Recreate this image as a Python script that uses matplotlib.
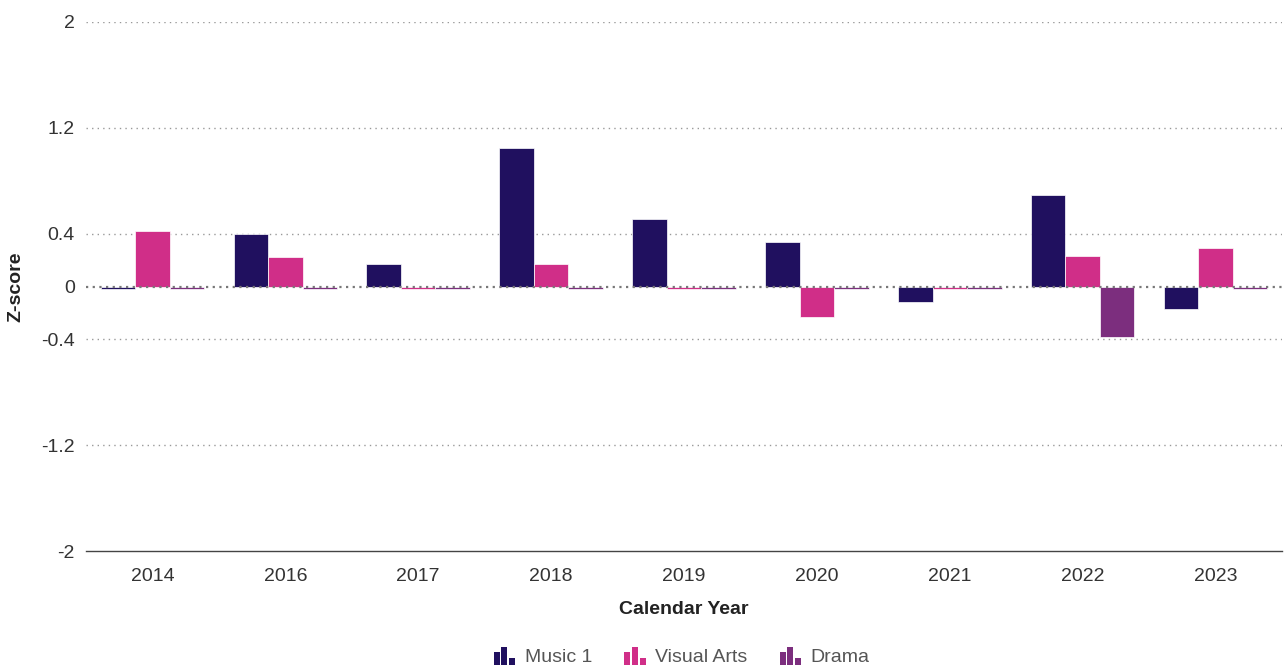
import numpy as np
import matplotlib
matplotlib.use("Agg")
import matplotlib.pyplot as plt
from matplotlib.patches import Rectangle
from matplotlib.legend_handler import HandlerBase

plt.rcParams['font.family'] = ['Liberation Sans', 'DejaVu Sans']

years = ["2014", "2016", "2017", "2018", "2019", "2020", "2021", "2022", "2023"]
music = [-0.02, 0.40, 0.17, 1.05, 0.51, 0.34, -0.12, 0.69, -0.17]
visual_arts = [0.42, 0.22, -0.02, 0.17, -0.02, -0.23, -0.02, 0.23, 0.29]
drama = [-0.02, -0.02, -0.02, -0.02, -0.02, -0.02, -0.02, -0.385, -0.02]

series = [("Music 1", music, "#20105f"),
          ("Visual Arts", visual_arts, "#d02e88"),
          ("Drama", drama, "#7c2e7e")]
yticks = [-2, -1.2, -0.4, 0, 0.4, 1.2, 2]


class BarIcon(HandlerBase):
    # little three-bar icon like the legend in the original
    def create_artists(self, legend, orig, xd, yd, w, h, fontsize, trans):
        c = orig.get_facecolor()
        bw = w / 3.6
        hs = [0.72, 1.0, 0.35]
        arts = []
        for i, hh in enumerate(hs):
            r = Rectangle((xd + i * bw * 1.3, yd - 0.2 * h), bw, hh * h * 1.3,
                          facecolor=c, edgecolor="none", transform=trans)
            arts.append(r)
        return arts


fig = plt.figure(figsize=(12.84, 6.68), dpi=100)
ax = fig.add_axes([86 / 1284, 1 - 551 / 668, (1282 - 86) / 1284, (551 - 22) / 668])

x = np.arange(len(years))
width = 0.26
handles = []
for i, (name, vals, col) in enumerate(series):
    ax.bar(x + (i - 1) * width, vals, width, color=col,
           edgecolor="#ffffff", linewidth=0.5, label=name, zorder=3)
    handles.append(Rectangle((0, 0), 1, 1, facecolor=col))

ax.set_xlim(-0.5, len(years) - 0.5)
ax.set_ylim(-2, 2)
ax.set_yticks(yticks)
ax.set_yticklabels(["-2", "-1.2", "-0.4", "0", "0.4", "1.2", "2"])
ax.set_xticks(x)
ax.set_xticklabels(years)

for t in yticks:
    if t == 0:
        ax.axhline(0, color="#777777", linestyle=(0, (1, 2)), linewidth=1.6, zorder=4)
    elif t != -2:
        ax.axhline(t, color="#999999", linestyle=(0, (1, 3)), linewidth=1.0, zorder=1)

for s in ["top", "right", "left"]:
    ax.spines[s].set_visible(False)
ax.spines["bottom"].set_color("#444444")
ax.spines["bottom"].set_linewidth(1.0)

ax.tick_params(axis="y", length=0, pad=8, labelsize=14, labelcolor="#333333")
ax.tick_params(axis="x", length=0, pad=12, labelsize=14, labelcolor="#333333")

ax.set_xlabel("Calendar Year", fontsize=14, fontweight="bold", color="#222222", labelpad=12)
ax.set_ylabel("Z-score", fontsize=14, fontweight="bold", color="#222222")
ax.yaxis.set_label_coords(-62 / 1196, 0.5)

fig.legend(handles, [s[0] for s in series], loc="center", bbox_to_anchor=(0.531, 1 - 657 / 668),
           ncol=3, frameon=False, fontsize=14, handler_map={Rectangle: BarIcon()},
           handlelength=1.1, handleheight=0.7, handletextpad=0.5, columnspacing=1.65,
           labelcolor="#555555")

fig.savefig("out.png", dpi=100)
